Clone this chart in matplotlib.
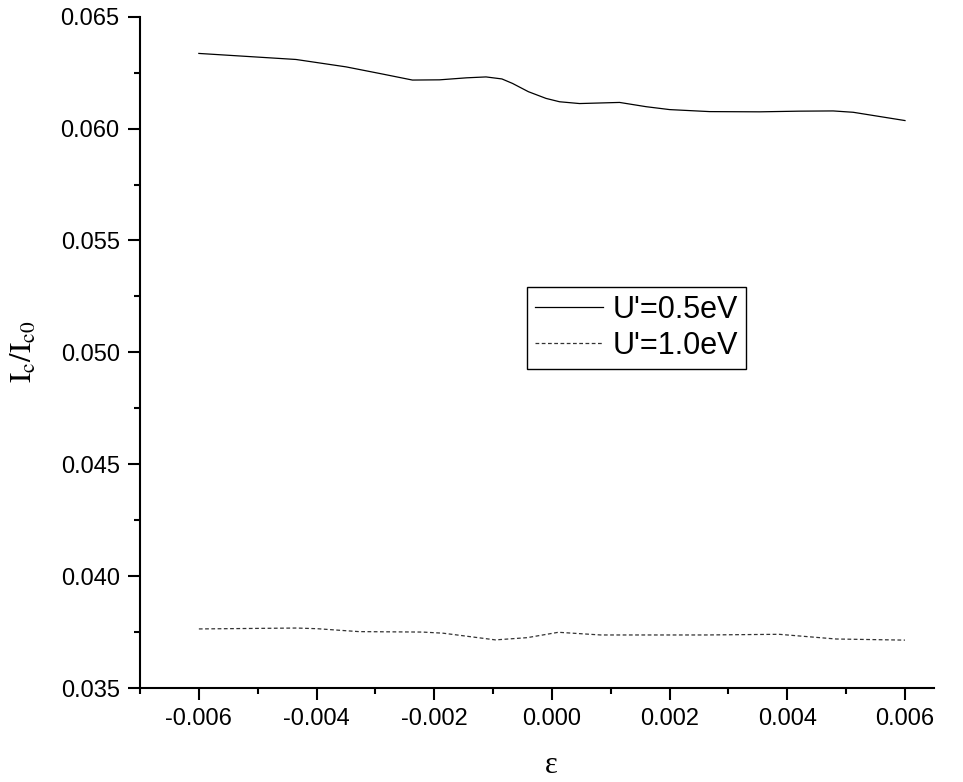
import matplotlib
matplotlib.use('Agg')
import matplotlib.pyplot as plt
from matplotlib.ticker import MultipleLocator, FormatStrFormatter

# U'=0.5eV
eps_05 = [-0.006, -0.00435, -0.0035, -0.0029, -0.00237, -0.00191, -0.00145, -0.00112, -0.00085,
          -0.00067, -0.0004, -0.0001, 0.00013, 0.00047, 0.00115, 0.0016, 0.0020, 0.00268,
          0.00353, 0.0042, 0.00478, 0.00512, 0.006]
ic_05 = [0.06336, 0.06309, 0.06276, 0.06245, 0.06217, 0.06218, 0.06227, 0.06231, 0.06222,
         0.06202, 0.06165, 0.06135, 0.0612, 0.06112, 0.06117, 0.06098, 0.06085, 0.06076,
         0.06075, 0.06078, 0.06079, 0.06073, 0.06036]
# U'=1.0eV
eps_10 = [-0.006, -0.00434, -0.00399, -0.00328, -0.0022, -0.00185, -0.00096, -0.00042,
          0.00011, 0.00083, 0.0026, 0.00386, 0.00483, 0.006]
ic_10 = [0.03764, 0.03768, 0.03765, 0.03752, 0.0375, 0.03745, 0.03715, 0.03725,
         0.03749, 0.03737, 0.03737, 0.0374, 0.03719, 0.03714]

plt.rcParams['font.family'] = ['Liberation Sans', 'DejaVu Sans']
plt.rcParams['mathtext.fontset'] = 'stix'

fig = plt.figure(figsize=(9.63, 7.82), dpi=100)
ax = fig.add_axes([0.1454, 0.1202, 0.8249, 0.8584])

ax.plot(eps_05, ic_05, color='black', lw=0.9, label="U'=0.5eV")
ax.plot(eps_10, ic_10, color='#333333', lw=0.9, dashes=(3, 2), label="U'=1.0eV")

ax.set_xlim(-0.007, 0.0065)
ax.set_ylim(0.035, 0.065)
ax.xaxis.set_major_locator(MultipleLocator(0.002))
ax.xaxis.set_minor_locator(MultipleLocator(0.001))
ax.yaxis.set_major_locator(MultipleLocator(0.005))
ax.yaxis.set_minor_locator(MultipleLocator(0.0025))
ax.xaxis.set_major_formatter(FormatStrFormatter('%.3f'))
ax.yaxis.set_major_formatter(FormatStrFormatter('%.3f'))
ax.set_xticks([-0.006, -0.004, -0.002, 0.0, 0.002, 0.004, 0.006])

for s in ['top', 'right']:
    ax.spines[s].set_visible(False)
for s in ['left', 'bottom']:
    ax.spines[s].set_linewidth(1.5)
ax.tick_params(which='major', direction='out', length=8.6, width=1.5, labelsize=17, pad=6)
ax.tick_params(which='minor', direction='out', length=4, width=1.5)

ax.set_ylabel(r'$\mathrm{I_c/I_{c0}}$', fontsize=22)
ax.yaxis.set_label_coords(-0.128, 0.5)
ax.set_xlabel('ε', fontsize=22, family=['Liberation Serif', 'DejaVu Serif'])
ax.xaxis.set_label_coords(0.518, -0.094)

leg = ax.legend(loc='upper left', bbox_to_anchor=(0.487, 0.597), borderaxespad=0,
                fontsize=22, fancybox=False, edgecolor='black', framealpha=1,
                handlelength=2.25, handletextpad=0.3, borderpad=0.25, labelspacing=0.2)
leg.get_frame().set_linewidth(1.0)

plt.savefig('out.png', dpi=100)
